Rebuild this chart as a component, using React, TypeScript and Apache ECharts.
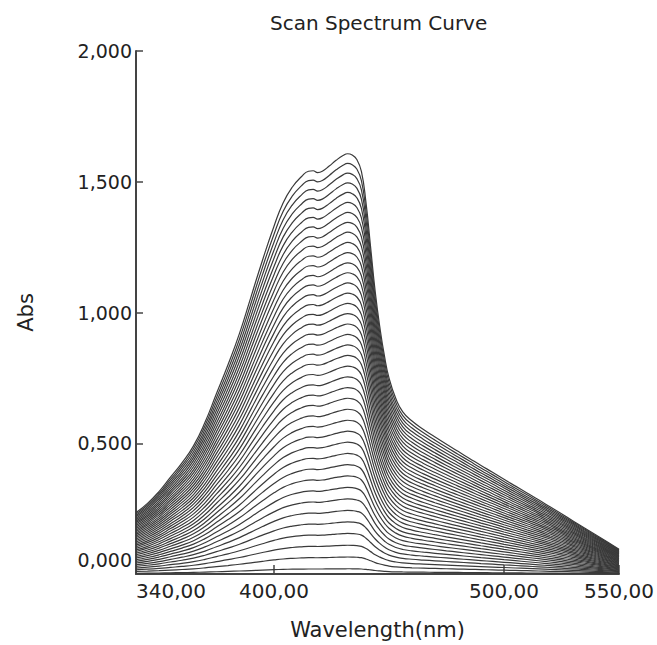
import React, { useEffect, useRef } from "react";
import * as echarts from "echarts";

// Wavelength grid (nm)
const wavelengths = [
  340, 345, 350, 355, 360, 365, 370, 375, 380, 385, 390, 395, 400, 404, 408,
  412, 415, 417, 419, 421, 424, 427, 430, 432, 434, 436, 438, 440, 442, 444,
  446, 448, 450, 453, 456, 460, 465, 470, 475, 480, 485, 490, 495, 500, 505,
  510, 515, 520, 525, 530, 535, 540, 545, 550,
];

// Absorbance of the most concentrated scan (top curve)
const topCurve = [
  0.235, 0.27, 0.315, 0.37, 0.425, 0.49, 0.58, 0.69, 0.8, 0.92, 1.06, 1.2,
  1.33, 1.42, 1.48, 1.52, 1.54, 1.542, 1.535, 1.54, 1.56, 1.582, 1.6, 1.607,
  1.602, 1.585, 1.54, 1.42, 1.25, 1.08, 0.945, 0.835, 0.75, 0.67, 0.62, 0.585,
  0.553, 0.524, 0.496, 0.469, 0.442, 0.415, 0.389, 0.362, 0.336, 0.31, 0.284,
  0.257, 0.23, 0.203, 0.176, 0.149, 0.122, 0.095,
];

// Peak absorbance of each scan, read at the 432 nm maximum
const peakLevels = [
  0.02, 0.065, 0.11, 0.155, 0.199, 0.243, 0.287, 0.331, 0.375, 0.418, 0.461,
  0.504, 0.546, 0.588, 0.63, 0.672, 0.713, 0.754, 0.795, 0.836, 0.876, 0.916,
  0.956, 0.996, 1.035, 1.074, 1.113, 1.152, 1.19, 1.229, 1.268, 1.307, 1.345,
  1.383, 1.421, 1.459, 1.496, 1.533, 1.57, 1.607,
];

const xTicks = [340, 400, 500, 550];
const yTicks = [0, 0.5, 1, 1.5, 2];

const FONT = "DejaVu Sans";

export default function App() {
  const ref = useRef<HTMLDivElement>(null);
  useEffect(() => {
    if (!ref.current) return;
    const chart = echarts.init(ref.current, null, { renderer: "svg" });
    const topPeak = Math.max(...topCurve);
    const series = peakLevels.map((level, k) => ({
      type: "line",
      name: "scan " + (k + 1),
      data: wavelengths.map((w, i) => [w, (topCurve[i] * level) / topPeak]),
      showSymbol: false,
      symbol: "none",
      smooth: 0.5,
      lineStyle: { color: "#3a3a3a", width: 1.2 },
      silent: true,
    }));
    chart.setOption({
      animation: false,
      title: {
        text: "Scan Spectrum Curve",
        left: 265,
        top: 8,
        textStyle: {
          fontFamily: FONT,
          fontSize: 20,
          fontWeight: "normal",
          color: "#222",
        },
      },
      grid: { left: 136, right: 38, top: 51, bottom: 69 },
      xAxis: {
        type: "value",
        min: 340,
        max: 550,
        name: "Wavelength(nm)",
        nameLocation: "middle",
        nameGap: 45,
        nameTextStyle: { fontFamily: FONT, fontSize: 21, color: "#222" },
        axisLine: { lineStyle: { color: "#444", width: 2 } },
        axisTick: {
          inside: true,
          length: 9,
          customValues: xTicks,
          lineStyle: { color: "#444", width: 1.5 },
        },
        axisLabel: {
          customValues: xTicks,
          fontFamily: FONT,
          fontSize: 20,
          color: "#222",
          margin: 7,
          alignMinLabel: "left",
          formatter: (v: number) => v.toFixed(2).replace(".", ","),
        },
        splitLine: { show: false },
      },
      yAxis: {
        type: "value",
        min: 0,
        max: 2,
        interval: 0.5,
        name: "Abs",
        nameLocation: "middle",
        nameGap: 100,
        nameRotate: 90,
        nameTextStyle: { fontFamily: FONT, fontSize: 21, color: "#222" },
        axisLine: { show: true, lineStyle: { color: "#444", width: 2 } },
        axisTick: {
          show: true,
          inside: true,
          length: 7,
          customValues: yTicks,
          lineStyle: { color: "#444", width: 1.5 },
        },
        axisLabel: {
          fontFamily: FONT,
          fontSize: 19,
          color: "#222",
          margin: 4,
          formatter: (v: number) =>
            v === 0 ? "{z|0,000}" : v.toFixed(3).replace(".", ","),
          rich: {
            z: {
              fontFamily: FONT,
              fontSize: 19,
              color: "#222",
              padding: [0, 0, 28, 0],
            },
          },
        },
        splitLine: { show: false },
      },
      series,
    });
    return () => chart.dispose();
  }, []);
  return (
    <div
      ref={ref}
      style={{ position: "absolute", left: 0, top: 0, width: 657, height: 645 }}
    />
  );
}
